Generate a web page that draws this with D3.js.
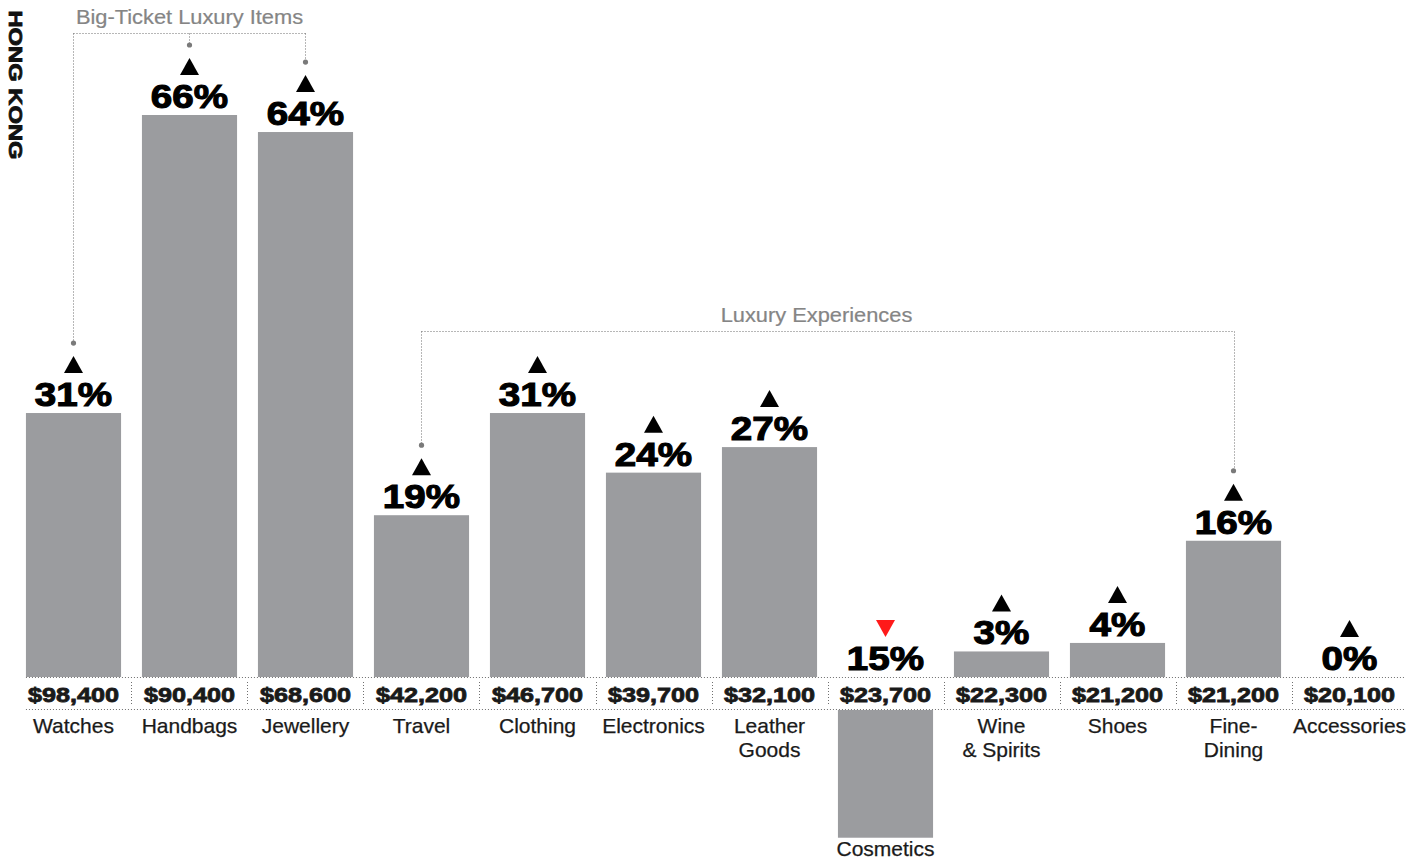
<!DOCTYPE html>
<html>
<head>
<meta charset="utf-8">
<script src="https://cdn.jsdelivr.net/npm/d3@7"></script>
<style>
  html, body { margin: 0; padding: 0; background: #fff; }
  svg { display: block; }
</style>
</head>
<body>
<svg id="chart" width="1428" height="861"></svg>
<script>
// Categories, shown with their label lines
const categories = ["Watches", "Handbags", "Jewellery", "Travel", "Clothing", "Electronics",
  "Leather Goods", "Cosmetics", "Wine & Spirits", "Shoes", "Fine-Dining", "Accessories"];
const labelLines = [["Watches"], ["Handbags"], ["Jewellery"], ["Travel"], ["Clothing"], ["Electronics"],
  ["Leather", "Goods"], ["Cosmetics"], ["Wine", "& Spirits"], ["Shoes"], ["Fine-", "Dining"], ["Accessories"]];
// Year-on-year change, percent
const changePct = [31, 66, 64, 19, 31, 24, 27, -15, 3, 4, 16, 0];
// Average spend, HK$
const spend = [98400, 90400, 68600, 42200, 46700, 39700, 32100, 23700, 22300, 21200, 21200, 20100];
// Grouping brackets
const groupNames = ["Big-Ticket Luxury Items", "Luxury Experiences"];
const groupMembers = [["Watches", "Handbags", "Jewellery"], ["Travel", "Fine-Dining"]];
const region = "HONG KONG";

const svg = d3.select("#chart");

const x = d3.scaleBand().domain(categories).range([15.5, 1407.5])
  .paddingInner(0.18).paddingOuter(0.09);
const bw = x.bandwidth();

const upBase = 677;    // baseline of rising bars
const downBase = 710;  // baseline of falling bars
const y = d3.scaleLinear().domain([0, 66]).range([upBase, 115]);
const pxPerPct = (upBase - y(1));

const rows = categories.map((c, i) => ({
  cat: c, lines: labelLines[i], pct: changePct[i], spend: spend[i],
  cx: x(c) + bw / 2
}));

const barFill = "#9b9c9f";
const dotColor = "#7a7a7a";

// Bars
svg.append("g").selectAll("rect").data(rows).join("rect")
  .attr("x", d => x(d.cat))
  .attr("width", bw)
  .attr("y", d => d.pct >= 0 ? y(d.pct) : downBase)
  .attr("height", d => d.pct >= 0 ? upBase - y(d.pct) : Math.abs(d.pct) * pxPerPct)
  .attr("fill", barFill);

// Dotted rules around the spend band
const xLeft = x(categories[0]);
const xRight = x(categories[categories.length - 1]) + bw;
const rule = (x1, y1, x2, y2) => svg.append("line")
  .attr("x1", x1).attr("y1", y1).attr("x2", x2).attr("y2", y2)
  .attr("stroke", "#6f6f6f").attr("stroke-width", 1).attr("stroke-dasharray", "1,2");
rule(xLeft, upBase + 0.5, xRight + 8, upBase + 0.5);
rule(xLeft, downBase - 0.5, xRight + 8, downBase - 0.5);
for (let i = 1; i < categories.length; i++) {
  const sx = Math.round((x(categories[i - 1]) + bw + x(categories[i])) / 2) + 0.5;
  rule(sx, upBase + 5, sx, downBase - 4);
}

// Spend labels (heavy, wide)
const fmt = d3.format("$,");
svg.append("g").selectAll("text").data(rows).join("text")
  .attr("transform", d => `translate(${d.cx},${701.5}) scale(1.23,1)`)
  .attr("text-anchor", "middle")
  .attr("font-family", "Liberation Sans, Arial, sans-serif")
  .attr("font-weight", "bold")
  .attr("font-size", 20.5)
  .attr("fill", "#1a1a1a")
  .attr("stroke", "#1a1a1a").attr("stroke-width", 0.8)
  .text(d => fmt(d.spend));

// Category labels (below the band, or below a falling bar)
const catG = svg.append("g");
rows.forEach(d => {
  const top = d.pct >= 0 ? 733 : downBase + Math.abs(d.pct) * pxPerPct + 18;
  const t = catG.append("text")
    .attr("text-anchor", "middle")
    .attr("font-family", "Liberation Sans, Arial, sans-serif")
    .attr("font-size", 21)
    .attr("fill", "#1a1a1a")
    .attr("stroke", "#1a1a1a").attr("stroke-width", 0.25);
  d.lines.forEach((ln, j) => {
    t.append("tspan").attr("x", d.cx).attr("y", top + j * 24).text(ln);
  });
});

// Change labels with direction markers
const labelBase = d => d.pct > 0 ? y(d.pct) : upBase;
const pctG = svg.append("g");
rows.forEach(d => {
  const b = labelBase(d);
  pctG.append("text")
    .attr("transform", `translate(${d.cx},${b - 7}) scale(1.17,1)`)
    .attr("text-anchor", "middle")
    .attr("font-family", "Liberation Sans, Arial, sans-serif")
    .attr("font-weight", "bold")
    .attr("font-size", 33)
    .attr("fill", "#000")
    .attr("stroke", "#000").attr("stroke-width", 1.1)
    .text(Math.abs(d.pct) + "%");
  const tb = b - 40, tt = b - 57, hw = 9.5;
  const pts = d.pct >= 0
    ? [[d.cx - hw, tb], [d.cx + hw, tb], [d.cx, tt]]
    : [[d.cx - hw, tt], [d.cx + hw, tt], [d.cx, tb]];
  pctG.append("path")
    .attr("d", d3.line()(pts) + "Z")
    .attr("fill", d.pct >= 0 ? "#000" : "#ff1a1a");
  d.markerTop = tt;
});

// Group brackets
const byCat = new Map(rows.map(d => [d.cat, d]));
groupNames.forEach((name, gi) => {
  const mem = groupMembers[gi].map(c => byCat.get(c));
  const i0 = categories.indexOf(mem[0].cat), i1 = categories.indexOf(mem[mem.length - 1].cat);
  const spanned = rows.slice(i0, i1 + 1);
  const by = Math.round(d3.min(spanned, d => d.markerTop) - 25) + 0.5;
  const gx0 = mem[0].cx, gx1 = mem[mem.length - 1].cx;
  rule(gx0, by, gx1, by);
  mem.forEach(m => {
    const dy = m.markerTop - 13;
    rule(Math.round(m.cx) + 0.5, by, Math.round(m.cx) + 0.5, dy);
    svg.append("circle").attr("cx", m.cx).attr("cy", dy).attr("r", 2.6).attr("fill", dotColor);
  });
  svg.append("text")
    .attr("transform", `translate(${(gx0 + gx1) / 2 - (gi === 1 ? 11 : 0)},${by - 9.5}) scale(1.12,1)`)
    .attr("text-anchor", "middle")
    .attr("font-family", "Liberation Sans, Arial, sans-serif")
    .attr("font-size", 19.5)
    .attr("fill", "#858585")
    .attr("stroke", "#858585").attr("stroke-width", 0.2)
    .text(name);
});

// Region title, set vertically
svg.append("text")
  .attr("transform", "translate(9,85) rotate(90) scale(1.25,1)")
  .attr("text-anchor", "middle")
  .attr("font-family", "Liberation Sans, Arial, sans-serif")
  .attr("font-weight", "bold")
  .attr("font-size", 19)
  .attr("fill", "#111")
  .attr("stroke", "#111").attr("stroke-width", 0.8)
  .text(region);
</script>
</body>
</html>
